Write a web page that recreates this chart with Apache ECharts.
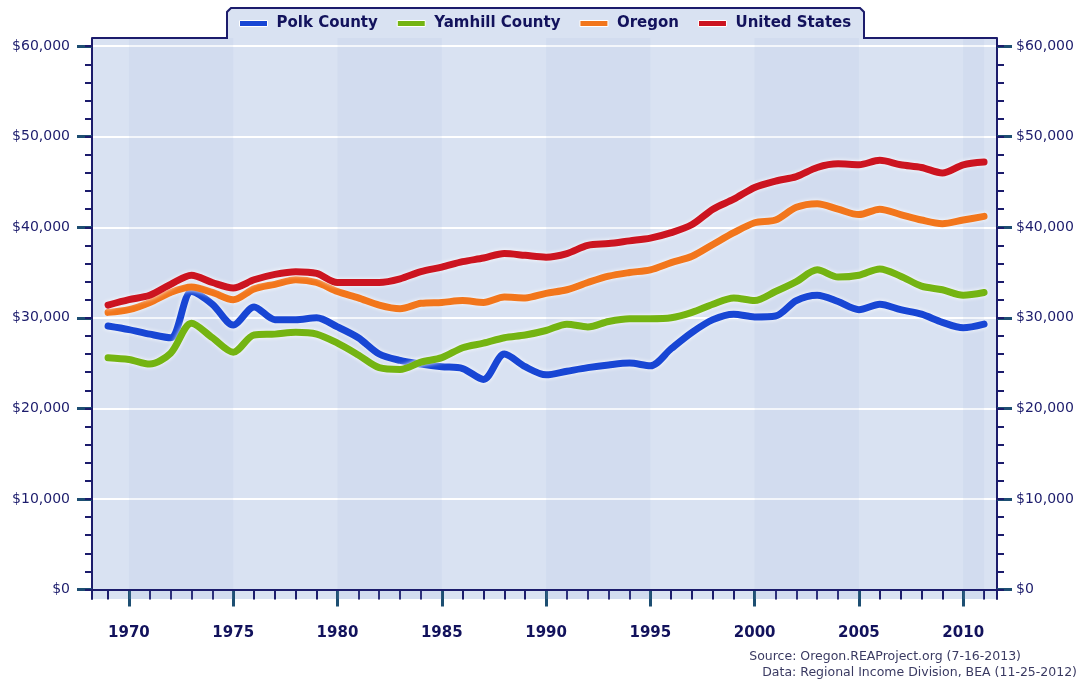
<!DOCTYPE html>
<html lang="en">
  <head>
    <meta charset="UTF-8" />
    <title>Per Capita Income</title>
    <script src="https://cdn.jsdelivr.net/npm/echarts@6.0.0/dist/echarts.min.js"></script>
    <style>
      body { margin: 0; background: #fff; }
    </style>
  </head>
  <body>
    <div id="main" style="width: 1083px; height: 683px"></div>
    <script type="text/javascript">
      // Data (dollars)
      const years = [];
      for (let y = 1969; y <= 2011; y++) years.push(y);
      const yearLabels = [1970, 1975, 1980, 1985, 1990, 1995, 2000, 2005, 2010];
      const dollarTicks = [0, 10000, 20000, 30000, 40000, 50000, 60000];
      const minorDollarTicks = [];
      for (let v = 0; v <= 60000; v += 2000) minorDollarTicks.push(v);

      const polk = [29100, 28700, 28200, 27800, 32900, 31500, 29200, 31200, 29800, 29800,
        30000, 29000, 27800, 26000, 25300, 24900, 24600, 24400, 23200, 26000,
        24600, 23700, 24100, 24500, 24800, 25000, 24700, 26600, 28400, 29800,
        30400, 30100, 30200, 31900, 32500, 31800, 30900, 31500, 30900, 30400,
        29500, 28900, 29300];
      const yamhill = [25600, 25400, 24900, 26100, 29400, 27800, 26200, 28100, 28200, 28400,
        28200, 27200, 25900, 24500, 24300, 25100, 25600, 26700, 27200, 27800,
        28100, 28600, 29300, 29000, 29600, 29900, 29900, 30000, 30600, 31500,
        32200, 31900, 32900, 34000, 35300, 34500, 34700, 35400, 34600, 33500,
        33100, 32500, 32800];
      const oregon = [30600, 30900, 31700, 32800, 33400, 32800, 32000, 33200, 33700, 34200,
        33900, 32900, 32200, 31400, 31000, 31600, 31700, 31900, 31700, 32300,
        32200, 32700, 33100, 33900, 34600, 35000, 35300, 36100, 36800, 38100,
        39400, 40500, 40800, 42200, 42600, 42000, 41400, 42000, 41400, 40800,
        40400, 40800, 41200];
      const unitedStates = [31400, 32000, 32500, 33700, 34700, 33900, 33300, 34200, 34800, 35100,
        34900, 33900, 33900, 33900, 34300, 35100, 35600, 36200, 36600, 37100,
        36900, 36700, 37100, 38000, 38200, 38500, 38800, 39400, 40300, 42000,
        43100, 44400, 45100, 45600, 46600, 47000, 46900, 47400, 46900, 46600,
        46000, 46900, 47200];
      const bands = [[1970, 1975], [1980, 1985], [1990, 1995], [2000, 2005], [2010, 2011]];

      const navy = '#1c1c6c';
      const majorTick = '#1d4e72';
      const plotBg = '#d9e2f2';

      const chart = echarts.init(document.getElementById('main'));

      const pairs = (vals) => years.map((y, i) => [y, vals[i]]);
      const money = (v) => '$' + v.toLocaleString('en-US');

      function lineSeries(name, color, vals) {
        return {
          name: name,
          type: 'line',
          data: pairs(vals),
          symbol: 'none',
          smooth: 0.3,
          z: 3,
          itemStyle: { color: color },
          lineStyle: {
            color: color, width: 7, cap: 'round', join: 'round',
            shadowColor: '#ffffff', shadowBlur: 4
          }
        };
      }

      const xBase = {
        type: 'value', gridIndex: 0, min: 1968.23, max: 2011.62,
        position: 'bottom', splitLine: { show: false }
      };
      const yBase = { type: 'value', min: -1050, max: 60900 };

      const option = {
        animation: false,
        grid: {
          left: 92, right: 86, top: 38, bottom: 84,
          show: true, backgroundColor: plotBg, borderWidth: 0
        },
        legend: {
          data: ['Polk County', 'Yamhill County', 'Oregon', 'United States'],
          left: 234, top: 11,
          icon: 'rect', itemWidth: 28, itemHeight: 6, itemGap: 19,
          itemStyle: { borderColor: '#ffffff', borderWidth: 1 },
          textStyle: {
            fontFamily: 'DejaVu Sans', fontWeight: 'bold', fontSize: 15,
            color: '#12125c', padding: [0, 0, 0, 4]
          }
        },
        xAxis: [
          Object.assign({}, xBase, {
            axisLine: { lineStyle: { color: navy, width: 2 } },
            axisTick: { customValues: years, length: 10, lineStyle: { color: navy, width: 2 } },
            axisLabel: {
              customValues: yearLabels, margin: 27, formatter: (v) => String(v),
              fontFamily: 'DejaVu Sans', fontWeight: 'bold', fontSize: 15, color: '#12125c'
            }
          }),
          Object.assign({}, xBase, {
            axisLine: { show: false },
            axisTick: { customValues: yearLabels, length: 17, lineStyle: { color: majorTick, width: 3 } },
            axisLabel: { show: false }
          })
        ],
        yAxis: [
          Object.assign({}, yBase, {
            position: 'left',
            axisLine: { show: true, lineStyle: { color: navy, width: 2 } },
            axisTick: { customValues: dollarTicks, length: 15, lineStyle: { color: majorTick, width: 3 } },
            axisLabel: {
              customValues: dollarTicks, formatter: money, margin: 22,
              fontFamily: 'DejaVu Sans', fontSize: 14, color: '#1c1c6c'
            },
            splitLine: { show: true, lineStyle: { color: '#ffffff', width: 2 } }
          }),
          Object.assign({}, yBase, {
            position: 'left',
            axisLine: { show: false },
            axisTick: { customValues: minorDollarTicks, length: 7, lineStyle: { color: navy, width: 2 } },
            axisLabel: { show: false },
            splitLine: { show: false }
          }),
          Object.assign({}, yBase, {
            position: 'right',
            axisLine: { show: true, lineStyle: { color: navy, width: 2 } },
            axisTick: { customValues: dollarTicks, length: 15, lineStyle: { color: majorTick, width: 3 } },
            axisLabel: {
              customValues: dollarTicks, formatter: money, margin: 19,
              fontFamily: 'DejaVu Sans', fontSize: 14, color: '#1c1c6c'
            },
            splitLine: { show: false }
          }),
          Object.assign({}, yBase, {
            position: 'right',
            axisLine: { show: false },
            axisTick: { customValues: minorDollarTicks, length: 7, lineStyle: { color: navy, width: 2 } },
            axisLabel: { show: false },
            splitLine: { show: false }
          })
        ],
        series: [
          {
            // shaded five-year bands and the zero line
            type: 'line', data: [], z: 1, silent: true,
            markArea: {
              silent: true,
              itemStyle: { color: 'rgba(160,185,225,0.13)' },
              data: bands.map((b) => [{ xAxis: b[0] }, { xAxis: b[1] }])
            },
            markLine: {
              silent: true, symbol: 'none', label: { show: false },
              lineStyle: { color: navy, width: 2, type: 'solid' },
              data: [{ yAxis: 0 }]
            }
          },
          lineSeries('Polk County', '#1846d4', polk),
          lineSeries('Yamhill County', '#74b412', yamhill),
          lineSeries('Oregon', '#f2761c', oregon),
          lineSeries('United States', '#cc1420', unitedStates)
        ],
        graphic: [
          {
            // legend tab behind the legend
            type: 'rect', z: -1, silent: true,
            shape: { x: 227, y: 8, width: 637, height: 32, r: [4, 4, 0, 0] },
            style: { fill: plotBg }
          },
          {
            // frame outline with the tab
            type: 'polyline', z: 10, silent: true,
            shape: {
              points: [[92, 38], [227, 38], [227, 12], [231, 8], [860, 8], [864, 12], [864, 38], [997, 38]]
            },
            style: { stroke: navy, lineWidth: 2, fill: null }
          },
          {
            type: 'text', right: 62, top: 650, silent: true,
            style: {
              text: 'Source: Oregon.REAProject.org (7-16-2013)',
              font: '12.5px "DejaVu Sans"', fill: '#3a3a62', textAlign: 'right'
            }
          },
          {
            type: 'text', right: 6, top: 666, silent: true,
            style: {
              text: 'Data: Regional Income Division, BEA (11-25-2012)',
              font: '12.5px "DejaVu Sans"', fill: '#3a3a62', textAlign: 'right'
            }
          }
        ]
      };

      chart.setOption(option);
    </script>
  </body>
</html>
